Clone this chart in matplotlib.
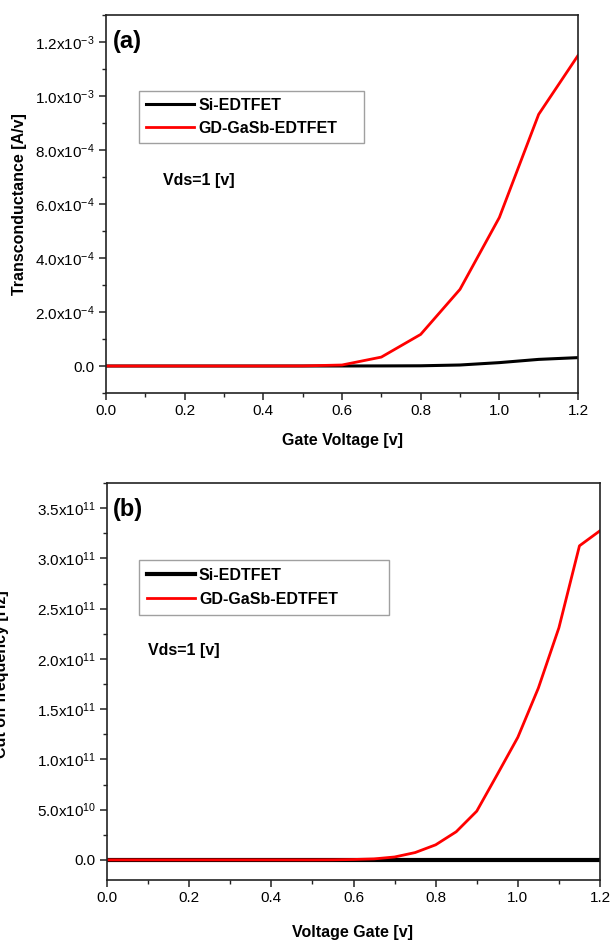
import matplotlib

matplotlib.use("Agg")
import matplotlib.pyplot as plt
from matplotlib.ticker import MultipleLocator, FixedLocator

plt.rcParams["font.family"] = ["Liberation Sans", "DejaVu Sans"]
plt.rcParams["mathtext.fontset"] = "custom"
plt.rcParams["mathtext.rm"] = "Liberation Sans"
plt.rcParams["mathtext.default"] = "regular"

# panel (a): transconductance vs gate voltage
vg_a = [0.0, 0.1, 0.2, 0.3, 0.4, 0.5, 0.6, 0.7, 0.8, 0.9, 1.0, 1.1, 1.2]
gm_si = [0, 0, 0, 0, 0, 0, 0.1e-6, 0.3e-6, 0.8e-6, 3.7e-6, 1.25e-5, 2.45e-5, 3.1e-5]
gm_gd = [0, 0, 0, 0, 0, 0.3e-6, 3.7e-6, 3.3e-5, 1.17e-4, 2.84e-4, 5.5e-4, 9.32e-4, 1.15e-3]
yticks_a = [0, 2e-4, 4e-4, 6e-4, 8e-4, 1e-3, 1.2e-3]
ylabels_a = ["0.0", "2.0x10$^{-4}$", "4.0x10$^{-4}$", "6.0x10$^{-4}$",
             "8.0x10$^{-4}$", "1.0x10$^{-3}$", "1.2x10$^{-3}$"]

# panel (b): cut-off frequency vs gate voltage
vg_b = [0.0, 0.05, 0.1, 0.15, 0.2, 0.25, 0.3, 0.35, 0.4, 0.45, 0.5, 0.55, 0.6,
        0.65, 0.7, 0.75, 0.8, 0.85, 0.9, 0.95, 1.0, 1.05, 1.1, 1.15, 1.2]
ft_si = [0] * 25
ft_gd = [0, 0, 0, 0, 0, 0, 0, 0, 0, 0, 0, 1e8, 4e8,
         1.0e9, 2.9e9, 7.3e9, 1.5e10, 2.8e10, 4.85e10, 8.5e10, 1.22e11,
         1.71e11, 2.31e11, 3.125e11, 3.275e11]
yticks_b = [0, 5e10, 1e11, 1.5e11, 2e11, 2.5e11, 3e11, 3.5e11]
ylabels_b = ["0.0", "5.0x10$^{10}$", "1.0x10$^{11}$", "1.5x10$^{11}$", "2.0x10$^{11}$",
             "2.5x10$^{11}$", "3.0x10$^{11}$", "3.5x10$^{11}$"]
xticks = [0.0, 0.2, 0.4, 0.6, 0.8, 1.0, 1.2]
xlabels = ["0.0", "0.2", "0.4", "0.6", "0.8", "1.0", "1.2"]

W, H = 613, 942
fig = plt.figure(figsize=(W / 100, H / 100), dpi=100)


def box(l, t, r, b):
    return [l / W, 1 - b / H, (r - l) / W, (b - t) / H]


def style(ax, yticks, ylabels, yminor):
    for side in ["left", "right", "top", "bottom"]:
        ax.spines[side].set_linewidth(1.2)
        ax.spines[side].set_color("#222222")
    ax.set_xlim(0, 1.2)
    ax.xaxis.set_major_locator(FixedLocator(xticks))
    ax.set_xticklabels(xlabels)
    ax.xaxis.set_minor_locator(MultipleLocator(0.1))
    ax.yaxis.set_major_locator(FixedLocator(yticks))
    ax.set_yticklabels(ylabels)
    ax.yaxis.set_minor_locator(MultipleLocator(yminor))
    ax.tick_params(which="major", direction="out", length=5, width=1.1,
                   labelsize=11, pad=3, color="#222222")
    ax.tick_params(which="minor", direction="out", length=3, width=1.0, color="#222222")


ax1 = fig.add_axes(box(106, 15, 578, 393))
ax1.plot(vg_a, gm_si, color="black", lw=2.2, label="Si-EDTFET")
ax1.plot(vg_a, gm_gd, color="#ff0000", lw=2.0, label="GD-GaSb-EDTFET")
ax1.set_ylim(-1e-4, 1.3e-3)
style(ax1, yticks_a, ylabels_a, 1e-4)
leg = ax1.legend(loc="upper left", bbox_to_anchor=(0.07, 0.80, 0.477, 0), mode="expand",
                 borderaxespad=0, fancybox=False, handlelength=3.0, handletextpad=0.25,
                 borderpad=0.45, labelspacing=0.5, prop={"weight": "bold", "size": 11.5})
leg.get_frame().set_edgecolor("#888888")
leg.get_frame().set_linewidth(1.0)
ax1.text(0.015, 0.929, "(a)", transform=ax1.transAxes, fontsize=17, fontweight="bold",
         va="center", ha="left")
ax1.text(0.121, 0.561, "Vds=1 [v]", transform=ax1.transAxes, fontsize=11.5,
         fontweight="bold", va="center", ha="left")
fig.text(20 / W, 1 - 204 / H, "Transconductance [A/v]", rotation=90, fontsize=11.5,
         fontweight="bold", ha="center", va="center")
fig.text(342 / W, 1 - 441 / H, "Gate Voltage [v]", fontsize=11.5, fontweight="bold",
         ha="center", va="center")

ax2 = fig.add_axes(box(107, 483, 600, 880))
ax2.plot(vg_b, ft_si, color="black", lw=3.0, label="Si-EDTFET")
ax2.plot(vg_b, ft_gd, color="#ff0000", lw=2.0, label="GD-GaSb-EDTFET")
ax2.set_ylim(-2e10, 3.75e11)
style(ax2, yticks_b, ylabels_b, 2.5e10)
leg = ax2.legend(loc="upper left", bbox_to_anchor=(0.065, 0.806, 0.507, 0), mode="expand",
                 borderaxespad=0, fancybox=False, handlelength=3.0, handletextpad=0.25,
                 borderpad=0.5, labelspacing=0.55, prop={"weight": "bold", "size": 11.5})
leg.get_frame().set_edgecolor("#888888")
leg.get_frame().set_linewidth(1.0)
ax2.text(0.012, 0.932, "(b)", transform=ax2.transAxes, fontsize=17, fontweight="bold",
         va="center", ha="left")
ax2.text(0.083, 0.577, "Vds=1 [v]", transform=ax2.transAxes, fontsize=11.5,
         fontweight="bold", va="center", ha="left")
# as in the source image, this label runs partly off the left edge
fig.text(2 / W, 1 - 674 / H, "Cut off frequency [Hz]", rotation=90, fontsize=11.5,
         fontweight="bold", ha="center", va="center")
fig.text(353 / W, 1 - 932 / H, "Voltage Gate [v]", fontsize=11.5, fontweight="bold",
         ha="center", va="center")

fig.savefig("out.png", dpi=100)
plt.close(fig)
